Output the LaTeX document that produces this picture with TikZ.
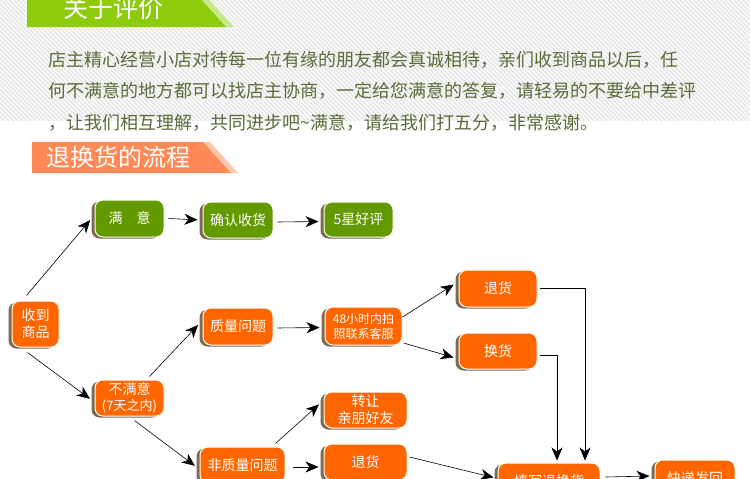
\documentclass[tikz,border=0pt]{standalone}
\usepackage{fontspec}
\setmainfont{Noto Sans CJK SC}
\usetikzlibrary{shadows,arrows.meta,calc}
\definecolor{orangebox}{HTML}{FF6600}
\definecolor{greenbox}{HTML}{639A00}
\definecolor{shadowbrown}{HTML}{7D6A50}
\definecolor{bannergreen}{HTML}{8DCB0C}
\definecolor{bannergreenlight}{HTML}{C9E88C}
\definecolor{bannersalmon}{HTML}{FF8A58}
\definecolor{bannersalmonlight}{HTML}{FFC7AA}
\definecolor{olivetext}{HTML}{5B6C3A}
\definecolor{hatchgray}{HTML}{E6E6E6}
\tikzset{
  flowbox/.style={rounded corners=8pt, draw=white, line width=1pt, text=white,
    font=\fontsize{14}{17}\selectfont, align=center, inner sep=0pt,
    drop shadow={shadow xshift=-3.5pt, shadow yshift=-1.5pt, fill=shadowbrown, opacity=1}},
  obox/.style={flowbox, fill=orangebox},
  gbox/.style={flowbox, fill=greenbox},
  arr/.style={-{Stealth[length=13pt,width=11pt,inset=4pt]}, line width=0.6pt, black, shorten >=2pt},
  hatchline/.style={hatchgray, line width=1.5pt},
  introtext/.style={anchor=west, text=olivetext, font=\fontsize{18}{18}\selectfont, inner sep=0pt}
}
\begin{document}
\begin{tikzpicture}[x=1pt,y=-1pt]
\clip (0,0) rectangle (750,479);
\fill[white] (0,0) rectangle (750,479);
% hatched background
\begin{scope}
\clip (0,0) rectangle (750,120);
\foreach \i in {-130,-125.5,...,750} \draw[hatchline] (\i,0) -- ++(125,125);
\end{scope}
% green banner
\fill[bannergreenlight] (200,-2) -- (208,-2) -- (234,27) -- (226,27) -- cycle;
\fill[bannergreen] (27,-2) -- (200,-2) -- (226,27) -- (27,27) -- cycle;
\node[text=white, font=\fontsize{25}{25}\selectfont, inner sep=0pt] (t1) at (113,8) {关于评价};
% intro text
\node[introtext] (l1) at (48,60) {店主精心经营小店对待每一位有缘的朋友都会真诚相待，亲们收到商品以后，任};
\node[introtext] (l2) at (48,91) {何不满意的地方都可以找店主协商，一定给您满意的答复，请轻易的不要给中差评};
\node[introtext] (l3) at (48,123) {，让我们相互理解，共同进步吧\textasciitilde 满意，请给我们打五分，非常感谢。};
% salmon banner
\fill[bannersalmonlight] (203,142) -- (210,142) -- (238,173) -- (231,173) -- cycle;
\fill[bannersalmon] (32,142) -- (203,142) -- (231,173) -- (32,173) -- cycle;
\node[text=white, font=\fontsize{24}{24}\selectfont, inner sep=0pt] (t2) at (118,157) {退换货的流程};
% flow nodes
\node[obox, minimum width=47pt, minimum height=46pt] (a) at (35.5,324) {收到\\商品};
\node[gbox, minimum width=69pt, minimum height=37pt] (b) at (129.5,218.5) {满\hspace{14pt}意};
\node[gbox, minimum width=70pt, minimum height=36pt] (c) at (238,220) {确认收货};
\node[gbox, minimum width=69pt, minimum height=35pt] (d) at (358.5,219.5) {5星好评};
\node[obox, minimum width=69pt, minimum height=36pt] (e) at (129.5,398) {不满意\\[-1pt]{\fontsize{13}{15}\selectfont (7天之内)}};
\node[obox, minimum width=70pt, minimum height=37pt] (f) at (238,326.5) {质量问题};
\node[obox, minimum width=77pt, minimum height=38pt, font=\fontsize{12}{15}\selectfont] (g) at (363.5,326) {48小时内拍\\照联系客服};
\node[obox, minimum width=78pt, minimum height=37pt] (h) at (498,288.5) {退货};
\node[obox, minimum width=78pt, minimum height=36pt] (i) at (498,351) {换货};
\node[obox, minimum width=85pt, minimum height=36pt] (j) at (242.5,465) {非质量问题};
\node[obox, minimum width=83pt, minimum height=36pt] (k) at (365.5,410) {转让\\亲朋好友};
\node[obox, minimum width=83pt, minimum height=36pt] (l) at (365.5,462) {退货};
\node[obox, minimum width=102pt, minimum height=36pt] (m) at (549,481) {填写退换货};
\node[obox, minimum width=80pt, minimum height=36pt] (n) at (695,478) {快递发回};
% connectors
\draw[arr] ([xshift=-9pt,yshift=5pt]a.north) -- ([xshift=-3pt]b.west);
\draw[arr] ([xshift=4pt]b.east) -- ([xshift=-3pt]c.west);
\draw[arr] ([xshift=4pt,yshift=-2pt]c.east) -- ([xshift=-3pt,yshift=-2pt]d.west);
\draw[arr] ([xshift=-8pt,yshift=-5pt]a.south) -- ([xshift=-3pt,yshift=-2pt]e.west);
\draw[arr] ([xshift=20pt,yshift=3pt]e.north) -- ([xshift=-3pt,yshift=3pt]f.west);
\draw[arr] ([xshift=5pt,yshift=-4pt]e.south) -- ([xshift=-3pt,yshift=-2pt]j.west);
\draw[arr] ([xshift=4pt,yshift=-1.5pt]f.east) -- ([xshift=-3pt,yshift=-1.5pt]g.west);
\draw[arr] ([yshift=9pt]g.east) -- ([xshift=-3pt,yshift=5pt]h.west);
\draw[arr] ([xshift=1pt,yshift=-17pt]g.east) -- ([xshift=-3pt,yshift=-7pt]i.west);
\draw[arr] ([xshift=2pt]h.east) -| ([xshift=36pt]m.north);
\draw[arr] ([xshift=2pt,yshift=-4pt]i.east) -| ([xshift=8pt]m.north);
\draw[arr] ([xshift=33pt,yshift=3pt]j.north) -- ([xshift=-3pt,yshift=7pt]k.west);
\draw[arr] ([xshift=7pt,yshift=-2pt]j.east) -- ([xshift=-3pt,yshift=-5pt]l.west);
\draw[arr] ([xshift=2pt,yshift=5pt]l.east) -- ([xshift=-2pt,yshift=3pt]m.west);
\draw[arr] ([xshift=5pt,yshift=4pt]m.east) -- ([xshift=-3pt,yshift=2pt]n.west);
\end{tikzpicture}
\end{document}
